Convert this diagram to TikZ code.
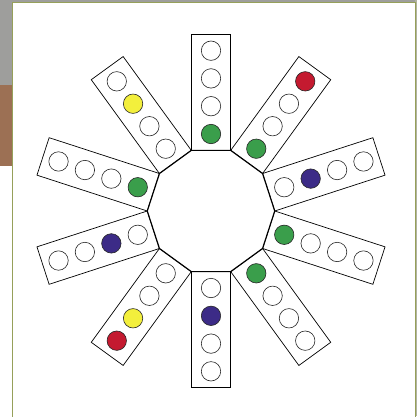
\documentclass[tikz,border=0pt]{standalone}
\usepackage{tikz}
\usetikzlibrary{shapes.geometric}
\definecolor{bggrey}{RGB}{158, 158, 156}
\definecolor{bgbrown}{RGB}{156, 112, 84}
\definecolor{panelline}{RGB}{150, 160, 90}
\definecolor{edgestrip}{RGB}{178, 180, 160}
\definecolor{dotgreen}{RGB}{58, 158, 75}
\definecolor{dotred}{RGB}{196, 26, 48}
\definecolor{dotyellow}{RGB}{243, 239, 60}
\definecolor{dotblue}{RGB}{60, 43, 135}
\tikzstyle{arm} = [rectangle, draw=black, fill=white, line width=0.7pt]
\tikzstyle{dot} = [circle, draw=black!85, line width=0.6pt, inner sep=0pt, minimum size=19.4pt]
\tikzstyle{hub} = [regular polygon, regular polygon sides=10, draw=black, fill=white, line width=1.2pt, inner sep=0pt, minimum size=127.5pt]

\begin{document}
\begin{tikzpicture}[x=1pt, y=1pt]
    % Background and panel
    \useasboundingbox (0,0) rectangle (417,416);
    \fill[bggrey] (0,0) rectangle (417,416);
    \fill[bgbrown] (0,250) rectangle (12.3,331);
    \fill[white] (0,0) rectangle (12.3,250);
    \fill[edgestrip] (415,0) rectangle (417,416);
    \draw[panelline, fill=white, line width=0.9pt] (12.3,-2) rectangle (415.3,413.3);

    % Arms, one per side of the hub
    \begin{scope}[shift={(211,205)}]
    \foreach \ang/\ca/\cb/\cc/\cd in {90/dotgreen/white/white/white, 54/dotgreen/white/white/dotred,
        18/white/dotblue/white/white, -18/dotgreen/white/white/white, -54/dotgreen/white/white/white,
        -90/white/dotblue/white/white, -126/white/white/dotyellow/dotred, -162/white/dotblue/white/white,
        162/dotgreen/white/white/white, 126/white/white/dotyellow/white}{
        \begin{scope}[rotate=\ang-90]
            \draw[arm] (-19.7,60.6) rectangle (19.7,176.6);
            \node[dot, fill=\ca] (d1) at (0,77) {};
            \node[dot, fill=\cb] (d2) at (0,104.8) {};
            \node[dot, fill=\cc] (d3) at (0,132.6) {};
            \node[dot, fill=\cd] (d4) at (0,160.3) {};
        \end{scope}
    }

    % Hub
    \node[hub] (hub) at (0,0) {};
    \end{scope}
\end{tikzpicture}
\end{document}
